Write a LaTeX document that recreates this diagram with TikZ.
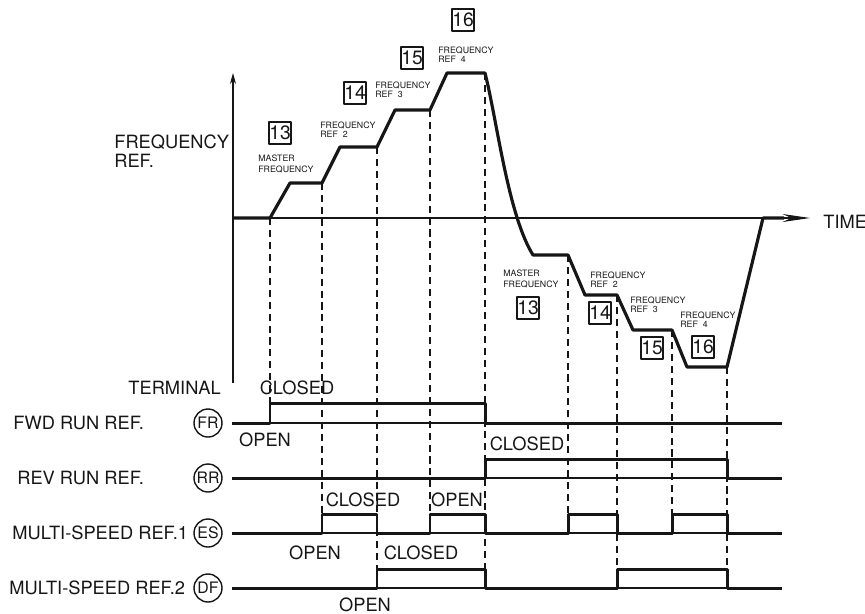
\documentclass[tikz,border=0pt]{standalone}
\usepackage{fontspec}
\setmainfont{TeX Gyre Heros}
\usetikzlibrary{arrows.meta}
\definecolor{ink}{HTML}{161616}

\begin{document}
\begin{tikzpicture}[color=ink, draw=ink, line cap=butt, line join=round, >=Stealth, x=0.02cm, y=-0.02cm,
    thinline/.style={line width=0.6pt},
    freqline/.style={line width=1.8pt},
    sigline/.style={line width=1.7pt},
    guide/.style={line width=0.6pt, dash pattern=on 4pt off 2.8pt},
    lab/.style={font=\fontsize{10.4}{12}\selectfont, inner sep=0pt},
    termbox/.style={draw, circle, line width=0.8pt, minimum size=0.56cm, inner sep=0pt, font=\fontsize{9}{9}\selectfont},
    numbox/.style={draw, line width=0.7pt, minimum size=0.44cm, inner sep=0pt, font=\fontsize{11}{11}\selectfont},
    tinylab/.style={font=\fontsize{5}{3.6}\selectfont, align=left, inner sep=0pt, anchor=west},
    masterlab/.style={font=\fontsize{5}{6.6}\selectfont, align=left, inner sep=0pt, anchor=west}]
  \useasboundingbox (0,0) rectangle (865,613);

  % axes
  \coordinate (org) at (233,218);
  \coordinate (ytop) at (233,73);
  \coordinate (ybot) at (233,383);
  \coordinate (tend) at (810,218);
  \draw[thinline, -{Stealth[length=0.22cm, width=0.12cm]}] (ybot) -- (ytop);
  \draw[thinline, -{Stealth[length=0.55cm, width=0.16cm]}] (org) -- (tend);
  \node[lab, anchor=west, align=left] (freqref) at (114,151) {FREQUENCY\\[-1pt]REF.};
  \node[lab, anchor=west] (time) at (823,222) {TIME};

  % frequency curve
  \foreach \n/\x/\y in {1/270/218, 2/290/183, 3/322/183, 4/340/147, 5/377/147, 6/395/110,
      7/430/110, 8/447/73, 9/485/73, 10/533/255, 11/568/255, 12/585/295, 13/617/295,
      14/633/330, 15/672/330, 16/687/367, 17/727/367, 18/763/218, 19/784/218}
    \coordinate (c\n) at (\x,\y);
  \draw[freqline] (org) -- (c1) -- (c2) -- (c3) -- (c4) -- (c5) -- (c6) -- (c7) -- (c8) -- (c9)
    .. controls (497,120) and (508,215) .. (c10) -- (c11) -- (c12) -- (c13) -- (c14) -- (c15)
    -- (c16) -- (c17) -- (c18) -- (c19);

  % speed labels, rising
  \node[numbox] (m13a) at (280,133) {13};
  \node[numbox] (m14a) at (355,93) {14};
  \node[numbox] (m15a) at (412,58) {15};
  \node[numbox] (m16a) at (463,20) {16};
  \node[masterlab] (mfa) at (258,164) {MASTER\\FREQUENCY};
  \node[tinylab] (r2a) at (320,130) {FREQUENCY\\REF\ \ 2};
  \node[tinylab] (r3a) at (375,90) {FREQUENCY\\REF\ \ 3};
  \node[tinylab] (r4a) at (438,55) {FREQUENCY\\REF\ \ 4};

  % speed labels, falling
  \node[numbox] (m13b) at (528,308) {13};
  \node[numbox] (m14b) at (600,313) {14};
  \node[numbox] (m15b) at (652,348) {15};
  \node[numbox] (m16b) at (703,347) {16};
  \node[masterlab] (mfb) at (503,279) {MASTER\\FREQUENCY};
  \node[tinylab] (r2b) at (590,280) {FREQUENCY\\REF\ \ 2};
  \node[tinylab] (r3b) at (630,305) {FREQUENCY\\REF\ \ 3};
  \node[tinylab] (r4b) at (680,320) {FREQUENCY\\REF\ \ 4};

  % terminals
  \node[lab, anchor=east] (terminal) at (221,388) {TERMINAL};
  \foreach \id/\name/\lx/\yy in {FR/FWD RUN REF./13/423, RR/REV RUN REF./17/478,
      ES/MULTI-SPEED REF.1/12/533, DF/MULTI-SPEED REF.2/9/588} {
    \node[lab, anchor=west] (n\id) at (\lx,\yy) {\name};
    \node[termbox] (t\id) at (208,\yy) {\id};
    \coordinate (s\id) at (232,\yy);
    \coordinate (e\id) at (782,\yy);
    \coordinate (h\id) at (0,\yy-19.5);
    \draw[thinline] (s\id) -- (e\id);
  }

  % signals
  \draw[sigline] (sFR) -- (270,423) -- (270,403) -- (485,403) -- (485,423) -- (eFR);
  \draw[sigline] (sRR) -- (485,478) -- (485,459) -- (727,459) -- (727,478) -- (eRR);
  \draw[sigline] (sES) -- (322,533) -- (322,514) -- (377,514) -- (377,533) -- (430,533)
    -- (430,514) -- (485,514) -- (485,533) -- (568,533) -- (568,514) -- (617,514) -- (617,533)
    -- (672,533) -- (672,514) -- (727,514) -- (727,533) -- (eES);
  \draw[sigline] (sDF) -- (377,588) -- (377,569) -- (485,569) -- (485,588) -- (617,588)
    -- (617,569) -- (727,569) -- (727,588) -- (eDF);

  % timing guides
  \foreach \c/\row in {1/FR, 3/ES, 5/DF, 7/ES, 9/DF, 11/ES, 13/DF, 15/ES, 17/DF}
    \draw[guide] (c\c) -- (c\c |- h\row);

  % switch states
  \node[lab] (cl1) at (297,388) {CLOSED};
  \node[lab] (op1) at (265,440) {OPEN};
  \node[lab] (cl2) at (527,444) {CLOSED};
  \node[lab] (cl3) at (363,500) {CLOSED};
  \node[lab] (op3) at (457,500) {OPEN};
  \node[lab] (op4) at (315,553) {OPEN};
  \node[lab] (cl4) at (421,553) {CLOSED};
  \node[lab] (op5) at (365,605) {OPEN};
\end{tikzpicture}
\end{document}
